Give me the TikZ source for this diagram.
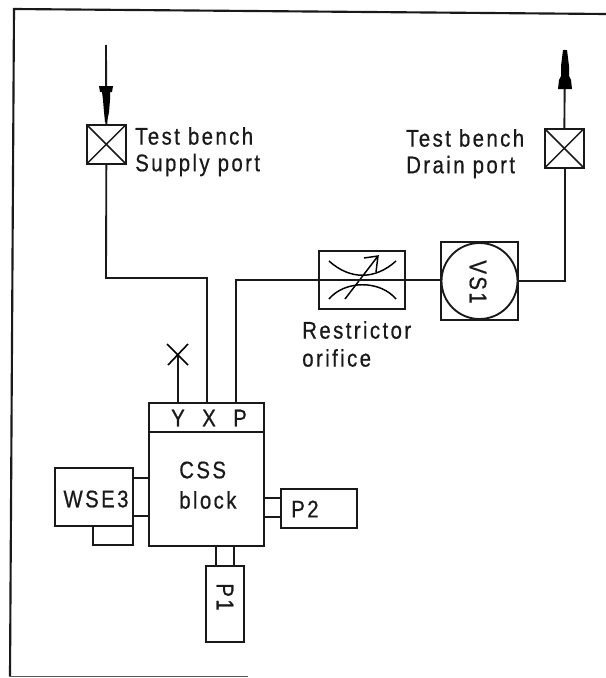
\documentclass[tikz,border=0pt]{standalone}
\usepackage{fontspec}
\setmainfont{Liberation Sans}[LetterSpace=10,FakeStretch=0.85,FakeBold=0.6]
\usetikzlibrary{calc}
\tikzset{
  x=0.75pt,y=-0.75pt,
  ln/.style={draw=black!90,line width=1.4pt},
  box/.style={ln,rectangle,inner sep=0pt,outer sep=0pt,anchor=north west},
  lbl/.style={inner sep=0pt,anchor=west,font=\fontsize{18pt}{20pt}\selectfont,text=black!90},
  ctr/.style={inner sep=0pt,font=\fontsize{18pt}{20pt}\selectfont,text=black!90},
  port/.style={box,minimum width=29pt,minimum height=29pt,path picture={\draw[line width=1.1pt] (path picture bounding box.north west)--(path picture bounding box.south east) (path picture bounding box.north east)--(path picture bounding box.south west);}},
}
\begin{document}
\begin{tikzpicture}
\useasboundingbox (0,0) rectangle (606,678);
\fill[white] (0,0) rectangle (606,678);
% frame (open on the right, as in the scan)
\coordinate (ftr) at (606,14);
\coordinate (ftl) at (14,9);
\coordinate (fbl) at (10,676.5);
\coordinate (fbr) at (248,676.5);
\draw[line width=1.6pt,black!90] (ftr)--(ftl)--(fbl);
\draw[line width=1.1pt,black!65] (fbl)--(fbr);
% ports
\node[port] (sup) at (87,125) {};
\node[port] (drn) at (545,129) {};
\coordinate (supin) at (106,45);
\coordinate (drnout) at (565,50);
\draw[ln] (supin)--(sup.north);
\draw[ln] (drn.north)--(drnout);
\fill[black] (99,86)--(113,86)--(112,92)--(110,92)--(110,100)--(109,112)--(107,122)--(105,122)--(104,112)--(103,100)--(102,92)--(100,92)--cycle;
\fill[black] (558,89)--(572,89)--(571,80)--(569,76)--(569,66)--(567,50)--(563,50)--(561,66)--(561,76)--(559,80)--cycle;
\node[lbl] (t1) at (135,136) {Test bench};
\node[lbl] (t2) at (135,165) {Supply port};
\node[lbl] (t3) at (406,138) {Test bench};
\node[lbl] (t4) at (406,167) {Drain port};
% restrictor, VS1
\node[box,minimum width=64.5pt,minimum height=43.5pt] (res) at (319,251) {};
\node[box,minimum width=57.75pt,minimum height=58.5pt] (vsb) at (441,242) {};
\node[draw=black!90,line width=1.4pt,circle,minimum size=57pt,inner sep=0pt] (vs) at (vsb.center) {};
\node[ctr,rotate=-90] (vst) at (478,282) {VS1};
\node[lbl] (t5) at (302,330) {Restrictor};
\node[lbl] (t6) at (302,358) {orifice};
\draw[line width=1.1pt] (329,261) .. controls (350,280) and (375,280) .. (396,261);
\draw[line width=1.1pt] (329,299) .. controls (345,280) and (380,280) .. (396,299);
\draw[line width=1.1pt] (345,299)--(378,256) (364,258)--(378,256)--(376,272);
% block
\node[box,minimum width=86.25pt,minimum height=107.25pt] (css) at (149,403) {};
\coordinate (dl) at (149,432);
\coordinate (dr) at (264,432);
\draw[ln] (dl)--(dr);
\node[ctr] (ly) at (178,418) {Y};
\node[ctr] (lx) at (209,418) {X};
\node[ctr] (lp) at (240,418) {P};
\node[lbl] (t7) at (179,470) {CSS};
\node[lbl] (t8) at (179,500) {block};
\coordinate (px) at (236,403);
\coordinate (xx) at (207,403);
\coordinate (yy) at (178,403);
\coordinate (ye) at (178,354);
\draw[ln] (vsb.east |- vs.east)-- ++(47,0) coordinate (c1) -- (drn.south -| c1);
\draw[ln] (px)--(236,280)--(vsb.west |- 0,280);
\draw[ln] (sup.south)--(106,278)--(207,278)--(xx);
\draw[ln] (yy)--(ye);
\draw[line width=1.2pt] ($(ye)+(-11,-10)$)--($(ye)+(10,11)$) ($(ye)+(10,-10)$)--($(ye)+(-10,11)$);
% WSE3
\node[box,minimum width=58.5pt,minimum height=43.5pt] (wse) at (55,468) {};
\node[ctr] (wt) at (96,499) {WSE3};
\node[box,minimum width=30pt,minimum height=14pt] (wsm) at (93,526) {};
\draw[ln] (133,478)--(149,478) (133,516)--(149,516);
% P2
\node[box,minimum width=57pt,minimum height=29.25pt] (p2) at (281,489) {};
\node[lbl] (p2t) at (291,509) {P2};
\draw[ln] (264,498)--(281,498) (264,517)--(281,517);
% P1
\node[box,minimum width=28.5pt,minimum height=57pt] (p1) at (206,566) {};
\node[ctr,rotate=-90] (p1t) at (225,597) {P1};
\draw[ln] (216,546)--(216,566) (234,546)--(234,566);
\end{tikzpicture}
\end{document}
